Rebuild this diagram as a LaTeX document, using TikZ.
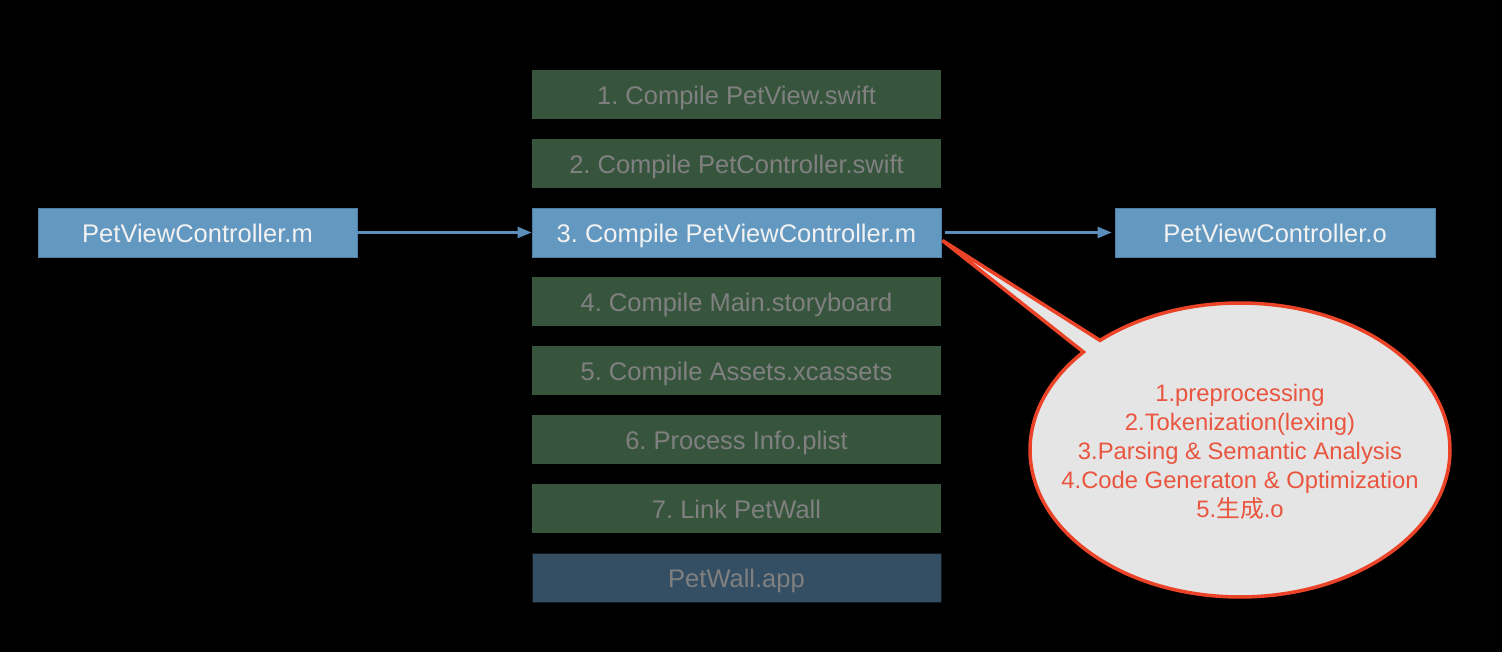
\documentclass[tikz,border=0pt]{standalone}
\usepackage{fontspec}
\setmainfont{Liberation Sans}
\newfontfamily\cjk{Noto Sans CJK SC}
\usetikzlibrary{arrows.meta}
\frenchspacing
\definecolor{boxblue}{HTML}{6398C1}
\definecolor{boxblueline}{HTML}{4F7FA6}
\definecolor{boxgreen}{HTML}{37553D}
\definecolor{boxnavy}{HTML}{344F63}
\definecolor{dimtext}{HTML}{808080}
\definecolor{lighttext}{HTML}{F2F2F2}
\definecolor{arrowblue}{HTML}{5B8EBB}
\definecolor{calloutred}{HTML}{EA4328}
\definecolor{callouttext}{HTML}{E9553F}
\definecolor{calloutfill}{HTML}{E5E5E5}
\tikzset{
  stagebox/.style={rectangle, minimum width=409pt, minimum height=49pt, inner sep=0pt, text height=20pt, text depth=0pt, font=\fontsize{25.5}{30}\selectfont},
  donebox/.style={stagebox, fill=boxgreen, text=dimtext},
  activebox/.style={stagebox, fill=boxblue, draw=boxblueline, line width=0.8pt, text=lighttext},
  appbox/.style={stagebox, fill=boxnavy, draw=black!70!boxnavy, line width=0.8pt, text=dimtext},
  filebox/.style={rectangle, fill=boxblue, draw=boxblueline, line width=0.8pt, minimum height=49pt, inner sep=0pt, text height=20pt, text depth=0pt, text=lighttext, font=\fontsize{25.5}{30}\selectfont},
  flow/.style={draw=arrowblue, line width=2.2pt, -{Triangle[length=14pt,width=11pt]}},
}
\begin{document}
\begin{tikzpicture}[x=1pt,y=1pt]
\fill[black] (0,0) rectangle (1502,652);
\useasboundingbox (0,0) rectangle (1502,652);
% middle column
\node[donebox]  (s1) at (736.5,557.5) {1. Compile PetView.swift};
\node[donebox]  (s2) at (736.5,488.5) {2. Compile PetController.swift};
\node[activebox](s3) at (736.5,419.5) {3. Compile PetViewController.m};
\node[donebox]  (s4) at (736.5,350.5) {4. Compile Main.storyboard};
\node[donebox]  (s5) at (736.5,281.5) {5. Compile Assets.xcassets};
\node[donebox]  (s6) at (736.5,212.5) {6. Process Info.plist};
\node[donebox]  (s7) at (736.5,143.5) {7. Link PetWall};
\node[appbox]   (s8) at (736.5,74.5)  {PetWall.app};
% side files
\node[filebox, minimum width=319pt] (src) at (197.5,419.5) {PetViewController.m};
\node[filebox, minimum width=320pt] (obj) at (1275,419.5) {PetViewController.o};
\draw[flow] (src.east) -- (s3.west);
\draw[flow] ([xshift=4pt]s3.east) -- ([xshift=-3pt]obj.west);
% callout
\coordinate (tip) at ([xshift=1pt,yshift=-8pt]s3.east);
\coordinate (ec) at (1240,202);
\draw[draw=calloutred, fill=calloutfill, line width=3.5pt, line join=miter]
  (tip) -- ([shift={(ec)}]131.8:210pt and 147pt)
  arc[start angle=131.8, end angle=-221.8, x radius=210pt, y radius=147pt] -- cycle;
\node[text=callouttext, align=center, font=\fontsize{23.8}{29}\selectfont] (steps) at (1240,200)
  {1.preprocessing\\2.Tokenization(lexing)\\3.Parsing \& Semantic Analysis\\4.Code Generaton \& Optimization\\5.{\cjk 生成}.o};
\end{tikzpicture}
\end{document}
